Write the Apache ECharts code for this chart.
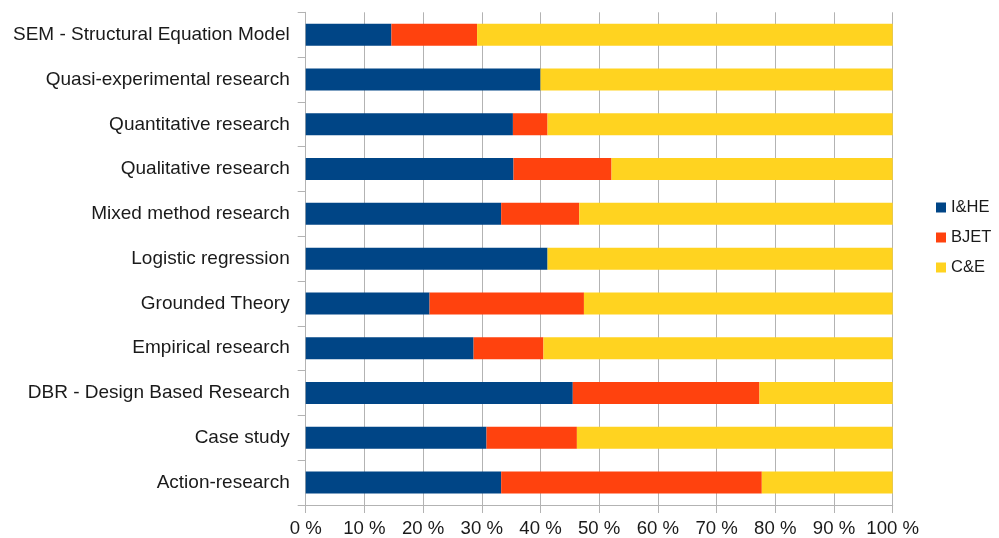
<!DOCTYPE html>
<html>
<head>
<meta charset="utf-8">
<script src="https://cdn.jsdelivr.net/npm/echarts@6/dist/echarts.min.js"></script>
<style>
  html, body { margin: 0; padding: 0; background: #ffffff; }
  #chart { width: 999px; height: 538px; }
</style>
</head>
<body>
<div id="chart"></div>
<script>
// Research methods, listed bottom to top as drawn on the category axis
const categories = [
  'Action-research',
  'Case study',
  'DBR - Design Based Research',
  'Empirical research',
  'Grounded Theory',
  'Logistic regression',
  'Mixed method research',
  'Qualitative research',
  'Quantitative research',
  'Quasi-experimental research',
  'SEM - Structural Equation Model'
];

// Share of each journal (percent of the row total)
const ihe  = [33.3, 30.8, 45.5, 28.6, 21.1, 41.2, 33.3, 35.4, 35.3, 40.0, 14.6];
const bjet = [44.4, 15.4, 31.8, 11.9, 26.3,  0.0, 13.3, 16.7,  5.9,  0.0, 14.6];
const ce   = [22.3, 53.8, 22.7, 59.5, 52.6, 58.8, 53.4, 47.9, 58.8, 60.0, 70.8];

const seriesNames = ['I&HE', 'BJET', 'C&E'];
const seriesColors = ['#004586', '#ff420e', '#ffd320'];
const seriesValues = [ihe, bjet, ce];

const gridColor = '#b3b3b3';
const textColor = '#1a1a1a';
const fontFamily = '"Liberation Sans", Arial, sans-serif';

const chart = echarts.init(document.getElementById('chart'), null, { renderer: 'canvas' });

chart.setOption({
  animation: false,
  backgroundColor: '#ffffff',
  textStyle: { fontFamily: fontFamily },
  grid: { left: 305.7, right: 106.3, top: 12.3, bottom: 33, containLabel: false },
  legend: {
    orient: 'vertical',
    left: 931,
    top: 194,
    itemWidth: 10,
    itemHeight: 10,
    itemGap: 13,
    icon: 'rect',
    textStyle: { fontSize: 16.5, color: textColor, fontFamily: fontFamily },
    data: seriesNames
  },
  xAxis: {
    type: 'value',
    min: 0,
    max: 100,
    interval: 10,
    axisLine: { show: true, lineStyle: { color: gridColor, width: 1 } },
    axisTick: { show: true, length: 8, lineStyle: { color: gridColor } },
    splitLine: { show: true, lineStyle: { color: gridColor, width: 1 } },
    axisLabel: {
      formatter: '{value} %',
      fontSize: 18.6,
      color: textColor,
      margin: 14,
      fontFamily: fontFamily
    }
  },
  yAxis: {
    type: 'category',
    data: categories,
    axisLine: { show: true, lineStyle: { color: gridColor, width: 1 } },
    axisTick: { show: true, length: 8, lineStyle: { color: gridColor } },
    splitLine: { show: false },
    axisLabel: {
      fontSize: 19,
      color: textColor,
      margin: 16,
      fontFamily: fontFamily
    }
  },
  series: seriesNames.map((name, i) => ({
    name: name,
    type: 'bar',
    stack: 'share',
    barWidth: 22,
    data: seriesValues[i],
    itemStyle: { color: seriesColors[i] },
    emphasis: { disabled: true }
  }))
});
</script>
</body>
</html>
